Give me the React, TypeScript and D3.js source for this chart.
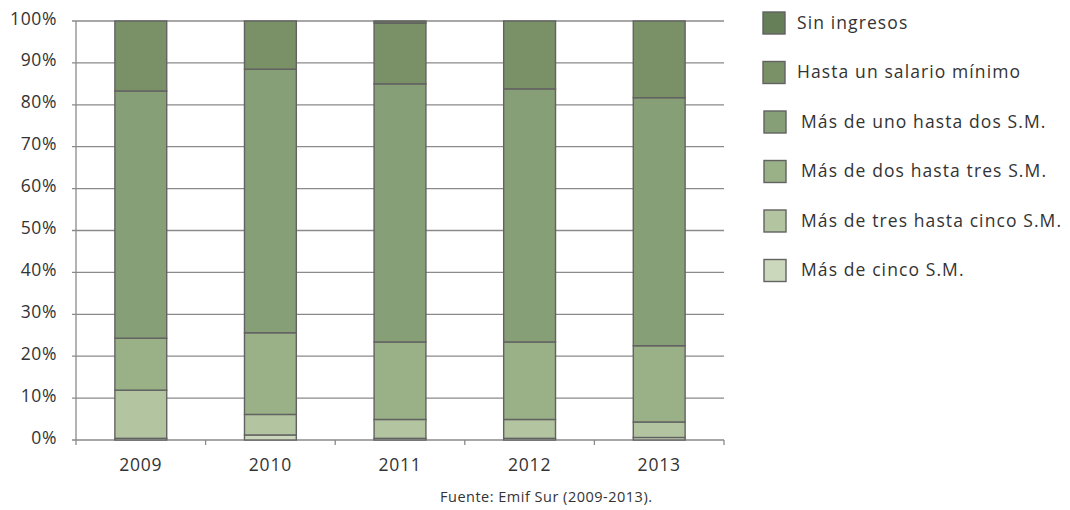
import React from "react";
import * as d3 from "d3";

const years = ["2009", "2010", "2011", "2012", "2013"];
const seriesNames = [
  "Más de cinco S.M.",
  "Más de tres hasta cinco S.M.",
  "Más de dos hasta tres S.M.",
  "Más de uno hasta dos S.M.",
  "Hasta un salario mínimo",
  "Sin ingresos",
];
const masCinco = [0.4, 1.2, 0.4, 0.4, 0.6];
const tresCinco = [11.5, 4.9, 4.5, 4.5, 3.7];
const dosTres = [12.4, 19.5, 18.5, 18.5, 18.2];
const unoDos = [59.0, 62.9, 61.6, 60.4, 59.2];
const hastaUno = [16.7, 11.5, 14.5, 16.2, 18.3];
const sinIngresos = [0, 0, 0.5, 0, 0];
const yTicks = [0, 10, 20, 30, 40, 50, 60, 70, 80, 90, 100];
const colors = ["#ccd8bb", "#b2c5a0", "#9ab087", "#869f77", "#7a9168", "#677f59"];
const legendOrder = [5, 4, 3, 2, 1, 0];

const W = 1070, H = 510;
const M = { left: 76, right: 724, top: 21, bottom: 440 };
const FONT = "'Open Sans', 'Noto Sans', sans-serif";

export default function App() {
  const values = [masCinco, tresCinco, dosTres, unoDos, hastaUno, sinIngresos];
  const rows = years.map((y, i) => {
    const r: any = { year: y };
    seriesNames.forEach((s, k) => (r[s] = values[k][i]));
    return r;
  });
  const stack = d3.stack().keys(seriesNames)(rows);
  const x = d3.scaleBand().domain(years).range([M.left, M.right]).paddingInner(0.6).paddingOuter(0.3);
  const xb = d3.scaleBand().domain(years).range([M.left, M.right]);
  const y = d3.scaleLinear().domain([0, 100]).range([M.bottom, M.top]);

  return (
    <svg width={W} height={H} style={{ position: "absolute", left: 0, top: 0, background: "#fff" }}>
      {yTicks.map((t) => (
        <g key={t}>
          <line x1={M.left - 4} x2={M.right} y1={y(t)} y2={y(t)} stroke="#8a8a8a" strokeWidth={1.3} />
          <text x={57} y={y(t)} dy="0.2em" textAnchor="end" fontFamily={FONT} fontSize={17.5} letterSpacing={0.6} fill="#333">
            {t}%
          </text>
        </g>
      ))}
      <line x1={M.left} x2={M.left} y1={M.top} y2={M.bottom} stroke="#8a8a8a" strokeWidth={1.3} />
      {years.map((yr) => (
        <line key={yr} x1={xb(yr)!} x2={xb(yr)!} y1={M.bottom} y2={M.bottom + 5} stroke="#8a8a8a" strokeWidth={1.3} />
      ))}
      <line x1={M.right} x2={M.right} y1={M.bottom} y2={M.bottom + 5} stroke="#8a8a8a" strokeWidth={1.3} />
      {stack.map((layer, k) => (
        <g key={k}>
          {layer.map((d, i) =>
            d[1] - d[0] > 0 ? (
              <rect
                key={i}
                x={x(years[i])!}
                width={x.bandwidth()}
                y={y(d[1])}
                height={y(d[0]) - y(d[1])}
                fill={colors[k]}
                stroke="#626262"
                strokeWidth={1.4}
              />
            ) : null
          )}
        </g>
      ))}
      {years.map((yr) => (
        <text key={yr} x={x(yr)! + x.bandwidth() / 2} y={471} textAnchor="middle" fontFamily={FONT} fontSize={17.5} letterSpacing={0.8} fill="#333">
          {yr}
        </text>
      ))}
      {legendOrder.map((k, j) => (
        <g key={k} transform={`translate(763, ${12 + j * 49.5})`}>
          <rect x={j < 2 ? 0 : 1} y={0} width={22} height={22} fill={colors[k]} stroke="#626262" strokeWidth={1.4} />
          <text x={j < 2 ? 34 : 38} y={16.5} fontFamily={FONT} fontSize={17.5} letterSpacing={1.1} fill="#333">
            {seriesNames[k]}
          </text>
        </g>
      ))}
      <text x={440} y={502} fontFamily={FONT} fontSize={14.5} letterSpacing={0.5} fill="#333">
        Fuente: Emif Sur (2009-2013).
      </text>
    </svg>
  );
}
